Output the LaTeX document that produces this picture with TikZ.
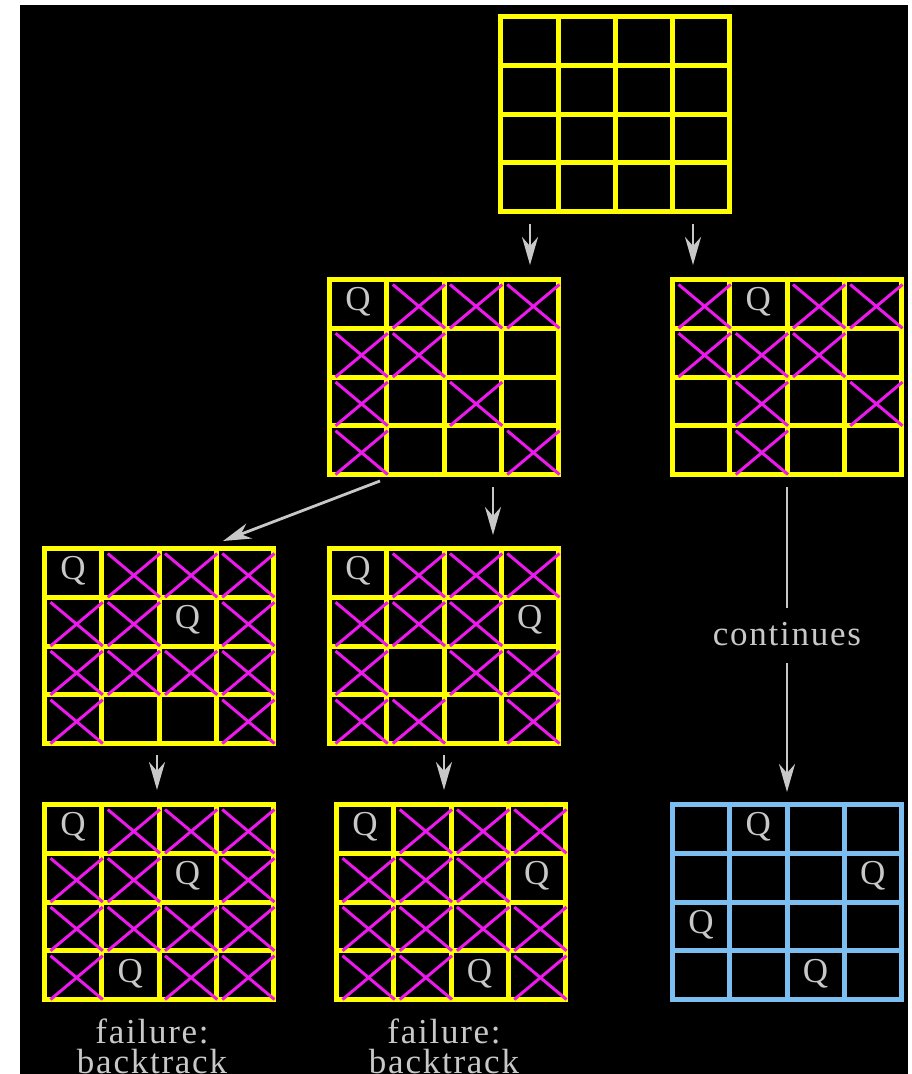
\documentclass[tikz,border=0pt]{standalone}
\usepackage{fontspec}
\setmainfont{Liberation Serif}
\newfontfamily\lblfont[LetterSpace=5]{Liberation Serif}
\usetikzlibrary{arrows.meta,calc}
\definecolor{qyellow}{RGB}{255,255,0}
\definecolor{qmag}{RGB}{235,25,235}
\definecolor{qblue}{RGB}{125,190,240}
\definecolor{qgray}{RGB}{200,200,200}
\tikzset{
  boardframe/.style={draw, line width=5pt, minimum width=229pt, minimum height=195pt, inner sep=0pt, outer sep=0pt},
  gridline/.style={line width=5pt},
  xline/.style={draw=qmag, line width=3pt},
  queen/.style={text=qgray, font=\fontsize{35}{35}\selectfont, inner sep=0pt, anchor=base},
  arr/.style={draw=qgray, line width=2.8pt, -{Stealth[length=28pt,width=16pt,inset=9pt]}},
  link/.style={draw=qgray, line width=2.8pt},
  lbltext/.style={text=qgray, font=\lblfont\fontsize{35}{30}\selectfont, inner sep=0pt, align=center},
}
% board frame and grid: name, left, top, colour
\newcommand\mkboard[4]{%
  \node[boardframe, draw=#4] (#1) at ({#2+114.5},{#3+97.5}) {};
  \foreach \k in {1,2,3}{
    \draw[gridline, #4] ({#2+\k*57.25},#3) -- ({#2+\k*57.25},{#3+195});
    \draw[gridline, #4] (#2,{#3+\k*48.75}) -- ({#2+229},{#3+\k*48.75});
  }
}
% crosses: left, top, list r/c
\newcommand\mkx[3]{%
  \foreach \r/\c in {#3}{
    \draw[xline] ({#1+\c*57.25+6},{#2+\r*48.75+5}) -- ({#1+(\c+1)*57.25+1},{#2+(\r+1)*48.75})
                 ({#1+(\c+1)*57.25+1},{#2+\r*48.75+5}) -- ({#1+\c*57.25+6},{#2+(\r+1)*48.75});
  }
}
% queens: name, left, top, list r/c
\newcommand\mkq[4]{%
  \foreach \r/\c [count=\n] in {#4}{
    \node[queen] (#1q\n) at ({#2+(\c+0.5)*57.25},{#3+(\r+0.5)*48.75+7}) {Q};
  }
}
\begin{document}
\begin{tikzpicture}[x=1pt,y=-1pt]
\useasboundingbox (0,0) rectangle (911,1074);
\fill[white] (0,0) rectangle (911,1074);
\fill[black] (20,5) rectangle (908,1074);

% top board
\mkboard{b0}{500.8}{16.5}{qyellow}

% level 1
\mkboard{b1}{329.5}{279.5}{qyellow}
\mkx{329.5}{279.5}{0/1,0/2,0/3,1/0,1/1,2/0,2/2,3/0,3/3}
\mkq{b1}{329.5}{279.5}{0/0}

\mkboard{b2}{672.5}{279.5}{qyellow}
\mkx{672.5}{279.5}{0/0,0/2,0/3,1/0,1/1,1/2,2/1,2/3,3/1}
\mkq{b2}{672.5}{279.5}{0/1}

% level 2
\mkboard{b3}{44.5}{548.5}{qyellow}
\mkx{44.5}{548.5}{0/1,0/2,0/3,1/0,1/1,1/3,2/0,2/1,2/2,2/3,3/0,3/3}
\mkq{b3}{44.5}{548.5}{0/0,1/2}

\mkboard{b4}{329.5}{548.5}{qyellow}
\mkx{329.5}{548.5}{0/1,0/2,0/3,1/0,1/1,1/2,2/0,2/2,2/3,3/0,3/1,3/3}
\mkq{b4}{329.5}{548.5}{0/0,1/3}

% level 3
\mkboard{b5}{44.5}{804.5}{qyellow}
\mkx{44.5}{804.5}{0/1,0/2,0/3,1/0,1/1,1/3,2/0,2/1,2/2,2/3,3/0,3/2,3/3}
\mkq{b5}{44.5}{804.5}{0/0,1/2,3/1}

\mkboard{b6}{336.5}{804.5}{qyellow}
\mkx{336.5}{804.5}{0/1,0/2,0/3,1/0,1/1,1/2,2/0,2/1,2/2,2/3,3/0,3/1,3/3}
\mkq{b6}{336.5}{804.5}{0/0,1/3,3/2}

\mkboard{b7}{672.5}{804.5}{qblue}
\mkq{b7}{672.5}{804.5}{0/1,1/3,2/0,3/2}

% labels
\node[lbltext, anchor=base] (cont) at ([yshift=-170.5pt]b2.south) {continues};
\node[lbltext, anchor=north] (fail1) at ([xshift=-7pt,yshift=-19pt]b5.south) {failure:\\backtrack};
\node[lbltext, anchor=north] (fail2) at ([xshift=-7pt,yshift=-19pt]b6.south) {failure:\\backtrack};

% arrows
\draw[arr, shorten <=12.5pt, shorten >=14.5pt] ([xshift=29.2pt]b0.south west) -- ([xshift=29.2pt]b0.south west |- b1.north);
\draw[arr, shorten <=12.5pt, shorten >=14.5pt] ([xshift=192.2pt]b0.south west) -- ([xshift=192.2pt]b0.south west |- b2.north);
\draw[arr] ([xshift=50.5pt,yshift=-6.5pt]b1.south west) -- ([xshift=178.5pt,yshift=7.5pt]b3.north west);
\draw[arr, shorten <=12.5pt, shorten >=13.5pt] ([xshift=163.5pt]b1.south west) -- ([xshift=163.5pt]b1.south west |- b4.north);
\draw[arr, shorten <=11.5pt, shorten >=14.5pt] ([xshift=112.5pt]b3.south west) -- ([xshift=112.5pt]b3.south west |- b5.north);
\draw[arr, shorten <=11.5pt, shorten >=14.5pt] ([xshift=114.5pt]b4.south west) -- ([xshift=114.5pt]b4.south west |- b6.north);
\draw[link] ([yshift=-12.5pt]b2.south) -- ([yshift=37pt]cont.base);
\draw[arr] ([yshift=-18pt]cont.base) -- ([yshift=12.5pt]b7.north);
\end{tikzpicture}
\end{document}
